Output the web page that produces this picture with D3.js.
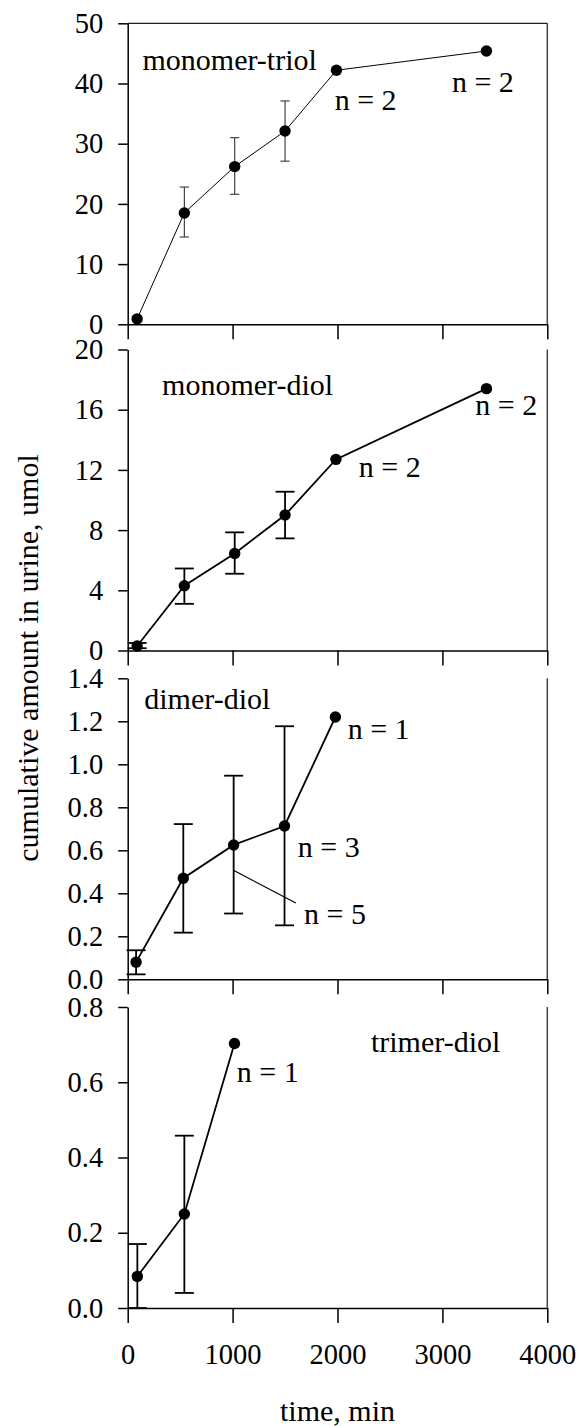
<!DOCTYPE html>
<html>
<head>
<meta charset="utf-8">
<script src="https://cdn.jsdelivr.net/npm/d3@7"></script>
<style>
  body { margin: 0; background: #fff; }
  svg { display: block; }
  svg text { font-family: "Liberation Serif", "Times New Roman", "DejaVu Serif", serif; }
</style>
</head>
<body>
<svg id="chart" width="579" height="1426"></svg>
<script>
// x axis (time, min)
const xTicks = [0, 1000, 2000, 3000, 4000];

// monomer-triol
const triolTime = [90, 540, 1020, 1500, 1990, 3420];
const triolValue = [0.9, 18.5, 26.2, 32.1, 42.2, 45.4];
const triolLow = [null, 14.5, 21.6, 27.1, null, null];
const triolHigh = [null, 22.8, 31.0, 37.1, null, null];
const triolTicks = [0, 10, 20, 30, 40, 50];

// monomer-diol
const mdiolTime = [90, 540, 1020, 1500, 1985, 3420];
const mdiolValue = [0.3, 4.3, 6.45, 9.0, 12.7, 17.4];
const mdiolLow = [0.15, 3.1, 5.1, 7.45, null, null];
const mdiolHigh = [0.5, 5.45, 7.85, 10.55, null, null];
const mdiolTicks = [0, 4, 8, 12, 16, 20];

// dimer-diol
const dimerTime = [80, 530, 1010, 1495, 1980];
const dimerValue = [0.08, 0.47, 0.625, 0.713, 1.22];
const dimerLow = [0.023, 0.217, 0.306, 0.251, null];
const dimerHigh = [0.135, 0.722, 0.947, 1.177, null];
const dimerTicks = [0, 0.2, 0.4, 0.6, 0.8, 1.0, 1.2, 1.4];

// trimer-diol
const trimerTime = [92, 540, 1018];
const trimerValue = [0.084, 0.25, 0.703];
const trimerLow = [0, 0.04, null];
const trimerHigh = [0.17, 0.458, null];
const trimerTicks = [0, 0.2, 0.4, 0.6, 0.8];

// text notes, placed in data units (time, value)
const triolNotes = [["monomer-triol", 141, 42.2], ["n = 2", 1973, 35.6], ["n = 2", 3091, 38.6]];
const mdiolNotes = [["monomer-diol", 328, 17.0], ["n = 2", 2203, 11.55], ["n = 2", 3313, 15.64]];
const dimerNotes = [["dimer-diol", 158, 1.256], ["n = 1", 2097, 1.116], ["n = 3", 1622, 0.569], ["n = 5", 1681, 0.259]];
const dimerLeader = [[1008, 0.507], [1603, 0.355]];
const trimerNotes = [["trimer-diol", 2319, 0.68], ["n = 1", 1040, 0.601]];

const panels = [
  {time: triolTime, value: triolValue, low: triolLow, high: triolHigh, ticks: triolTicks, fmt: d3.format("d"), notes: triolNotes, thin: true},
  {time: mdiolTime, value: mdiolValue, low: mdiolLow, high: mdiolHigh, ticks: mdiolTicks, fmt: d3.format("d"), notes: mdiolNotes},
  {time: dimerTime, value: dimerValue, low: dimerLow, high: dimerHigh, ticks: dimerTicks, fmt: d3.format(".1f"), notes: dimerNotes, leader: dimerLeader},
  {time: trimerTime, value: trimerValue, low: trimerLow, high: trimerHigh, ticks: trimerTicks, fmt: d3.format(".1f"), notes: trimerNotes}
];

const tops = [23.3, 349.5, 678.3, 1007];
const panelHeight = 301;

const svg = d3.select("#chart");

const x = d3.scaleLinear()
    .domain([0, 4000])
    .range([127.7, 547.3]);

panels.forEach((p, i) => {
  const top = tops[i], bottom = top + panelHeight;
  const y = d3.scaleLinear()
      .domain([0, d3.max(p.ticks)])
      .range([bottom, top]);
  const g = svg.append("g");
  const lw = p.thin ? 1 : 1.8;

  // right frame (and top frame on the first panel)
  g.append("line")
      .attr("x1", x(4000)).attr("x2", x(4000))
      .attr("y1", top).attr("y2", bottom)
      .attr("stroke", "#444").attr("stroke-width", 1.5);
  if (i === 0) {
    g.append("line")
        .attr("x1", x(0)).attr("x2", x(4000))
        .attr("y1", top).attr("y2", top)
        .attr("stroke", "#222").attr("stroke-width", 1.3);
  }

  g.append("g")
      .attr("transform", `translate(0,${bottom})`)
      .call(d3.axisBottom(x).tickValues(xTicks).tickFormat(d3.format("d")).tickSize(15).tickSizeOuter(0).tickPadding(21))
      .call(a => a.attr("font-size", 28.5))
      .call(a => a.selectAll("line, path").attr("stroke", "#000").attr("stroke-width", 1.5))
      .call(a => { if (i < panels.length - 1) a.selectAll("text").remove(); });

  g.append("g")
      .attr("transform", `translate(${x(0)},0)`)
      .call(d3.axisLeft(y).tickValues(p.ticks).tickFormat(p.fmt).tickSize(9.5).tickSizeOuter(0).tickPadding(15))
      .call(a => a.attr("font-size", 28.5))
      .call(a => a.selectAll("line, path").attr("stroke", "#000").attr("stroke-width", 1.5));

  const pts = p.time.map((t, j) => ({t, v: p.value[j], lo: p.low[j], hi: p.high[j]}));

  // error bars
  const cap = p.thin ? 4.6 : 9.5;
  const eb = g.append("g")
      .attr("stroke", p.thin ? "#333" : "#000")
      .attr("stroke-width", p.thin ? 1.1 : 1.8);
  pts.filter(d => d.lo !== null).forEach(d => {
    eb.append("line")
        .attr("x1", x(d.t)).attr("x2", x(d.t))
        .attr("y1", y(d.lo)).attr("y2", y(d.hi));
    eb.append("line")
        .attr("x1", x(d.t) - cap).attr("x2", x(d.t) + cap)
        .attr("y1", y(d.hi)).attr("y2", y(d.hi));
    eb.append("line")
        .attr("x1", x(d.t) - cap).attr("x2", x(d.t) + cap)
        .attr("y1", y(d.lo)).attr("y2", y(d.lo));
  });

  g.append("path")
      .datum(pts)
      .attr("fill", "none")
      .attr("stroke", "#000")
      .attr("stroke-width", lw)
      .attr("d", d3.line().x(d => x(d.t)).y(d => y(d.v)));

  g.selectAll("circle")
    .data(pts)
    .join("circle")
      .attr("cx", d => x(d.t))
      .attr("cy", d => y(d.v))
      .attr("r", 5.7)
      .attr("fill", "#000");

  if (p.leader) {
    g.append("line")
        .attr("x1", x(p.leader[0][0])).attr("y1", y(p.leader[0][1]))
        .attr("x2", x(p.leader[1][0])).attr("y2", y(p.leader[1][1]))
        .attr("stroke", "#000").attr("stroke-width", 1.2);
  }

  g.selectAll("text.note")
    .data(p.notes)
    .join("text")
      .attr("class", "note")
      .attr("x", d => x(d[1]))
      .attr("y", d => y(d[2]))
      .attr("font-size", 30)
      .text(d => d[0]);
});

svg.append("text")
    .attr("transform", "translate(38,658) rotate(-90)")
    .attr("text-anchor", "middle")
    .attr("font-size", 30)
    .text("cumulative amount in urine, umol");

svg.append("text")
    .attr("x", (x(0) + x(4000)) / 2)
    .attr("y", 1421)
    .attr("text-anchor", "middle")
    .attr("font-size", 30)
    .text("time, min");
</script>
</body>
</html>
